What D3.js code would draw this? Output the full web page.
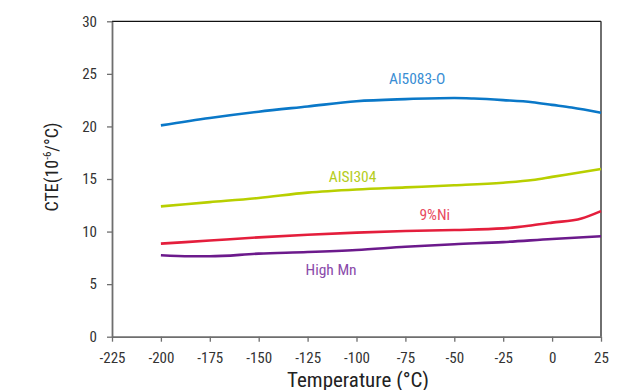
<!DOCTYPE html>
<html>
<head>
<meta charset="utf-8">
<script src="https://cdn.jsdelivr.net/npm/d3@7"></script>
<style>
  html, body { margin: 0; padding: 0; background: #fff; }
  svg { display: block; }
  text { font-family: "Liberation Sans Narrow", "Roboto Condensed", "Arial Narrow", sans-serif; }
</style>
</head>
<body>
<svg id="chart" width="627" height="390"></svg>
<script>
// ---- data ----
const xTicks = [-225, -200, -175, -150, -125, -100, -75, -50, -25, 0, 25];
const yTicks = [0, 5, 10, 15, 20, 25, 30];

const al5083Temp = [-200, -175, -150, -125, -100, -75, -50, -40, -25, -10, 0, 10, 25];
const al5083CTE  = [20.1, 20.8, 21.4, 21.9, 22.4, 22.6, 22.7, 22.65, 22.5, 22.3, 22.05, 21.8, 21.3];

const aisi304Temp = [-200, -175, -150, -125, -100, -75, -50, -25, -10, 0, 25];
const aisi304CTE  = [12.4, 12.8, 13.2, 13.7, 14.0, 14.2, 14.4, 14.65, 14.9, 15.2, 15.95];

const ni9Temp = [-200, -175, -150, -125, -100, -75, -50, -25, -10, 0, 15, 25];
const ni9CTE  = [8.85, 9.15, 9.45, 9.7, 9.9, 10.05, 10.15, 10.3, 10.6, 10.85, 11.25, 11.95];

const highMnTemp = [-200, -185, -175, -150, -125, -100, -75, -50, -25, 0, 25];
const highMnCTE  = [7.75, 7.65, 7.65, 7.9, 8.05, 8.25, 8.55, 8.8, 9.0, 9.3, 9.55];

const seriesNames = ["Al5083-O", "AISI304", "9%Ni", "High Mn"];

// ---- layout ----
const svg = d3.select("#chart");
const x = d3.scaleLinear().domain([-225, 25]).range([112, 601]);
const y = d3.scaleLinear().domain([0, 30]).range([336.7, 21.3]);

const series = [
  { name: seriesNames[0], t: al5083Temp, v: al5083CTE, color: "#0a78c8", label: "#3a8ed4", lx: -69, ly: 84 },
  { name: seriesNames[1], t: aisi304Temp, v: aisi304CTE, color: "#b8cf00", label: "#b5cd1e", lx: -102, ly: 181.7 },
  { name: seriesNames[2], t: ni9Temp, v: ni9CTE, color: "#e41e3c", label: "#e84a60", lx: -60, ly: 220 },
  { name: seriesNames[3], t: highMnTemp, v: highMnCTE, color: "#6c1a8c", label: "#8a4aaa", lx: -113, ly: 275 }
];

// frame top and right
svg.append("line").attr("x1", 112).attr("x2", 601).attr("y1", y(30)).attr("y2", y(30))
  .attr("stroke", "#111").attr("stroke-width", 1.2);
svg.append("line").attr("x1", 601).attr("x2", 601).attr("y1", y(30)).attr("y2", y(0))
  .attr("stroke", "#333").attr("stroke-width", 1.4);

// axes
const fmt = d => String(d);
const gx = svg.append("g").attr("transform", `translate(0,${y(0)})`)
  .call(d3.axisBottom(x).tickValues(xTicks).tickFormat(fmt).tickSize(5).tickPadding(11).tickSizeOuter(0));
const gy = svg.append("g").attr("transform", `translate(112,0)`)
  .call(d3.axisLeft(y).tickValues(yTicks).tickFormat(fmt).tickSize(5).tickPadding(10).tickSizeOuter(0));

[gx, gy].forEach(g => {
  g.select(".domain").attr("stroke", "#6e6e6e").attr("stroke-width", 1.8);
  g.selectAll(".tick line").attr("stroke", "#6e6e6e").attr("stroke-width", 1.3);
  g.selectAll(".tick text").attr("fill", "#333").attr("font-size", 15)
    .attr("font-family", "'Liberation Sans Narrow', 'Roboto Condensed', sans-serif");
});

// lines
const line = d3.line().x(d => x(d[0])).y(d => y(d[1])).curve(d3.curveMonotoneX);
series.forEach(s => {
  const pts = s.t.map((t, i) => [t, s.v[i]]);
  svg.append("path").datum(pts).attr("d", line)
    .attr("fill", "none").attr("stroke", s.color).attr("stroke-width", 2.6)
    .attr("stroke-linejoin", "round");
  svg.append("text").attr("x", x(s.lx)).attr("y", s.ly)
    .attr("text-anchor", "middle").attr("font-size", 15.5).attr("fill", s.label)
    .text(s.name);
});

// axis titles
svg.append("text").attr("x", 358).attr("y", 386.5).attr("text-anchor", "middle")
  .attr("font-size", 21).attr("fill", "#222").text("Temperature (°C)");

const yt = svg.append("text").attr("transform", "translate(57.5,167) rotate(-90)")
  .attr("text-anchor", "middle").attr("font-size", 18).attr("fill", "#222");
yt.append("tspan").text("CTE(10");
yt.append("tspan").attr("font-size", 11).attr("dy", -7).text("-6");
yt.append("tspan").attr("dy", 7).text("/°C)");
</script>
</body>
</html>
